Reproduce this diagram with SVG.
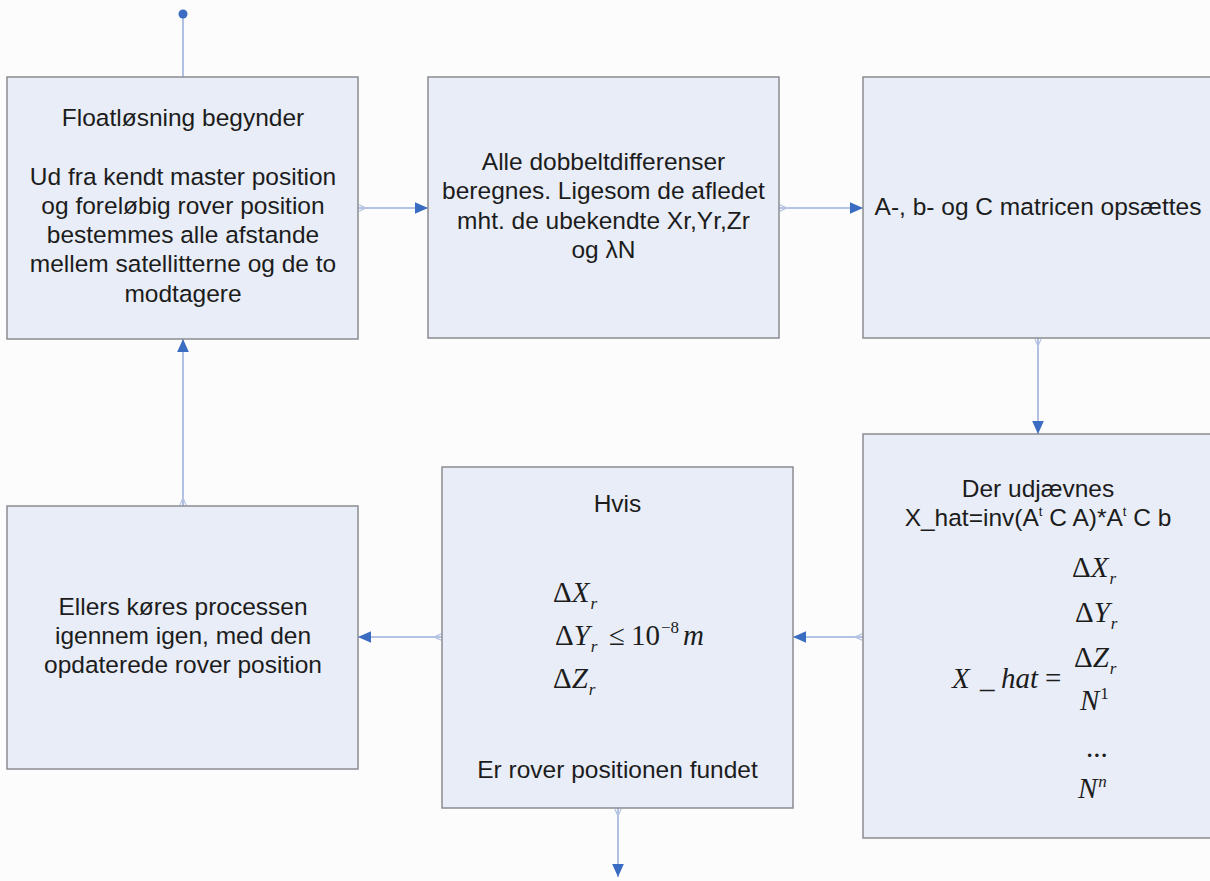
<svg xmlns="http://www.w3.org/2000/svg" width="1210" height="881" viewBox="0 0 1210 881">
<style>
.bg{fill:#fcfcfd}
.box{fill:#e8edf7;stroke:#8a8c90;stroke-width:1.5}
.t{font-family:"Liberation Sans",Arial,sans-serif;font-size:24.5px;fill:#1c1c1c;text-anchor:middle}
.m{font-family:"Liberation Serif","Times New Roman",serif;font-size:29px;fill:#1c1c1c;font-style:italic}
.up{font-style:normal}
.sub{font-size:17px}
.con{fill:none;stroke:#9db1dc;stroke-width:1.6}
</style>
<defs>
<marker id="arr" viewBox="0 0 10 10" refX="10" refY="5" markerWidth="13" markerHeight="13" markerUnits="userSpaceOnUse" orient="auto">
<path d="M0,0.5 L10,5 L0,9.5 Z" fill="#3a6cc2"/>
</marker>
<marker id="tail" viewBox="0 0 10 10" refX="0" refY="5" markerWidth="9" markerHeight="9" markerUnits="userSpaceOnUse" orient="auto">
<path d="M1,1.5 L9,5 L1,8.5" fill="none" stroke="#b5c3e3" stroke-width="1.3"/>
</marker>
</defs>
<rect class="bg" x="0" y="0" width="1210" height="881"/>
<g id="connectors">
<line class="con" x1="183" y1="14" x2="183" y2="77"/>
<circle cx="183" cy="14" r="4.5" fill="#3a6cc2"/>
<line class="con" x1="358" y1="208" x2="428" y2="208" marker-start="url(#tail)" marker-end="url(#arr)"/>
<line class="con" x1="779" y1="208" x2="863" y2="208" marker-start="url(#tail)" marker-end="url(#arr)"/>
<line class="con" x1="1038" y1="338" x2="1038" y2="434" marker-start="url(#tail)" marker-end="url(#arr)"/>
<line class="con" x1="863" y1="637" x2="793" y2="637" marker-start="url(#tail)" marker-end="url(#arr)"/>
<line class="con" x1="442" y1="637" x2="358" y2="637" marker-start="url(#tail)" marker-end="url(#arr)"/>
<line class="con" x1="183" y1="506" x2="183" y2="339" marker-start="url(#tail)" marker-end="url(#arr)"/>
<line class="con" x1="618" y1="808" x2="618" y2="877" marker-start="url(#tail)" marker-end="url(#arr)"/>
</g>
<g id="node1">
<rect class="box" x="7" y="77" width="351" height="262"/>
<text class="t" x="183" y="126">Floatløsning begynder</text>
<text class="t" x="183" y="185">Ud fra kendt master position</text>
<text class="t" x="183" y="214">og foreløbig rover position</text>
<text class="t" x="183" y="243">bestemmes alle afstande</text>
<text class="t" x="183" y="272">mellem satellitterne og de to</text>
<text class="t" x="183" y="302">modtagere</text>
</g>
<g id="node2">
<rect class="box" x="428" y="77" width="351" height="261"/>
<text class="t" x="603.5" y="170">Alle dobbeltdifferenser</text>
<text class="t" x="603.5" y="199">beregnes. Ligesom de afledet</text>
<text class="t" x="603.5" y="229">mht. de ubekendte Xr,Yr,Zr</text>
<text class="t" x="603.5" y="258">og λN</text>
</g>
<g id="node3">
<rect class="box" x="863" y="77" width="352" height="261"/>
<text class="t" x="1038" y="215">A-, b- og C matricen opsættes</text>
</g>
<g id="node4">
<rect class="box" x="863" y="434" width="352" height="404"/>
<text class="t" x="1038" y="497">Der udjævnes</text>
<text class="t" x="1038" y="526">X_hat=inv(A<tspan dy="-10" font-size="13">t</tspan><tspan dy="10"> C A)*A</tspan><tspan dy="-10" font-size="13">t</tspan><tspan dy="10"> C b</tspan></text>
<text class="m" x="1072" y="577"><tspan class="up">Δ</tspan>X<tspan class="sub" dx="1" dy="7">r</tspan></text>
<text class="m" x="1075" y="622"><tspan class="up">Δ</tspan>Y<tspan class="sub" dx="1" dy="7">r</tspan></text>
<text class="m" x="1074" y="667"><tspan class="up">Δ</tspan>Z<tspan class="sub" dx="1" dy="7">r</tspan></text>
<text class="m" x="952" y="688">X<tspan x="980">_</tspan><tspan x="1001">hat</tspan><tspan class="up" x="1045">=</tspan></text>
<text class="m" x="1080" y="710">N<tspan class="up sub" dx="1" dy="-11">1</tspan></text>
<text class="m up" x="1086" y="757">...</text>
<text class="m" x="1078" y="798">N<tspan class="sub" dx="1" dy="-11">n</tspan></text>
</g>
<g id="node5">
<rect class="box" x="442" y="467" width="351" height="341"/>
<text class="t" x="617.5" y="512">Hvis</text>
<text class="m" x="553" y="602"><tspan class="up">Δ</tspan>X<tspan class="sub" dx="1" dy="7">r</tspan></text>
<text class="m" x="555" y="645"><tspan class="up">Δ</tspan>Y<tspan class="sub" dx="1" dy="7">r</tspan><tspan class="up" x="609" dy="-7">≤</tspan><tspan class="up" x="631">10</tspan><tspan class="up sub" dx="1" dy="-12">−8</tspan><tspan x="683" dy="12">m</tspan></text>
<text class="m" x="553" y="688"><tspan class="up">Δ</tspan>Z<tspan class="sub" dx="1" dy="7">r</tspan></text>
<text class="t" x="617.5" y="778">Er rover positionen fundet</text>
</g>
<g id="node6">
<rect class="box" x="7" y="506" width="351" height="263"/>
<text class="t" x="183" y="615">Ellers køres processen</text>
<text class="t" x="183" y="644">igennem igen, med den</text>
<text class="t" x="183" y="673">opdaterede rover position</text>
</g>
</svg>
